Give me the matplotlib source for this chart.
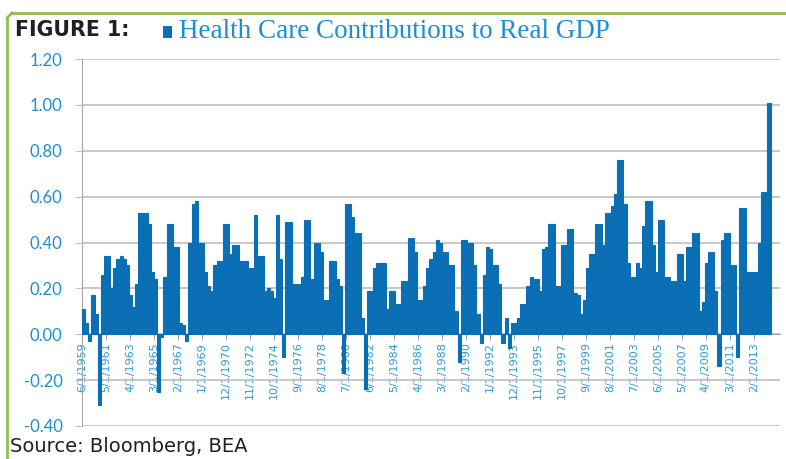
import numpy as np
import matplotlib.pyplot as plt
from matplotlib.lines import Line2D
from matplotlib.patches import Rectangle

# quarterly health care contribution to real GDP growth (pct pts), first bar = 6/1/1959
hc_contrib = [
    0.11, 0.05, -0.03, 0.17, 0.09, -0.31, 0.26, 0.34, 0.34, 0.20,
    0.29, 0.33, 0.34, 0.33, 0.30, 0.17, 0.12, 0.22, 0.53, 0.53,
    0.53, 0.48, 0.27, 0.24, -0.25, -0.01, 0.25, 0.48, 0.48, 0.38,
    0.38, 0.05, 0.04, -0.03, 0.40, 0.57, 0.58, 0.40, 0.40, 0.27,
    0.21, 0.19, 0.30, 0.32, 0.32, 0.48, 0.48, 0.35, 0.39, 0.39,
    0.32, 0.32, 0.32, 0.29, 0.29, 0.52, 0.34, 0.34, 0.19, 0.20,
    0.19, 0.16, 0.52, 0.33, -0.10, 0.49, 0.49, 0.22, 0.22, 0.22,
    0.25, 0.50, 0.50, 0.24, 0.40, 0.40, 0.36, 0.15, 0.15, 0.32,
    0.32, 0.24, 0.21, -0.17, 0.57, 0.57, 0.51, 0.44, 0.44, 0.07,
    -0.24, 0.19, 0.19, 0.29, 0.31, 0.31, 0.31, 0.11, 0.19, 0.19,
    0.13, 0.13, 0.23, 0.23, 0.42, 0.42, 0.36, 0.15, 0.15, 0.21,
    0.29, 0.33, 0.36, 0.41, 0.40, 0.36, 0.36, 0.30, 0.30, 0.10,
    -0.12, 0.41, 0.41, 0.40, 0.40, 0.30, 0.09, -0.04, 0.26, 0.38,
    0.37, 0.30, 0.30, 0.22, -0.04, 0.07, -0.06, 0.05, 0.05, 0.07,
    0.13, 0.13, 0.21, 0.25, 0.24, 0.24, 0.19, 0.37, 0.38, 0.48,
    0.48, 0.21, 0.21, 0.39, 0.39, 0.46, 0.46, 0.18, 0.17, 0.09,
    0.15, 0.29, 0.35, 0.35, 0.48, 0.48, 0.39, 0.53, 0.53, 0.56,
    0.61, 0.76, 0.76, 0.57, 0.31, 0.25, 0.25, 0.31, 0.29, 0.47,
    0.58, 0.58, 0.39, 0.27, 0.50, 0.50, 0.25, 0.25, 0.23, 0.23,
    0.35, 0.35, 0.23, 0.38, 0.38, 0.44, 0.44, 0.10, 0.14, 0.31,
    0.36, 0.36, 0.19, -0.14, 0.41, 0.44, 0.44, 0.30, 0.30, -0.10,
    0.55, 0.55, 0.27, 0.27, 0.27, 0.27, 0.40, 0.62, 0.62, 1.01,
]

# excel date axis labels, one every 23 months
tick_labels = ['6/1/1959', '5/1/1961', '4/1/1963', '3/1/1965', '2/1/1967',
               '1/1/1969', '12/1/1970', '11/1/1972', '10/1/1974', '9/1/1976',
               '8/1/1978', '7/1/1980', '6/1/1982', '5/1/1984', '4/1/1986',
               '3/1/1988', '2/1/1990', '1/1/1992', '12/1/1993', '11/1/1995',
               '10/1/1997', '9/1/1999', '8/1/2001', '7/1/2003', '6/1/2005',
               '5/1/2007', '4/1/2009', '3/1/2011', '2/1/2013']
y_ticks = [-0.40, -0.20, 0.00, 0.20, 0.40, 0.60, 0.80, 1.00, 1.20]

BAR = '#0B6FB6'
LABEL_BLUE = '#1E8ED2'
GRID = '#C4C4C4'
W, H = 786, 459

fig = plt.figure(figsize=(W / 100, H / 100), dpi=100)
ax = fig.add_axes([82 / W, 1 - 426 / H, (780 - 82) / W, (426 - 59) / H])

# months since 6/1959, each quarter spans 3 months
x = np.arange(len(hc_contrib)) * 3
ax.bar(x, hc_contrib, width=3, align='edge', color=BAR, edgecolor=BAR,
       linewidth=0.8, zorder=3)

ax.set_xlim(0, 669)
ax.set_ylim(-0.4, 1.2)
ax.set_yticks(y_ticks)
ax.set_yticklabels([f'{v:.2f}' for v in y_ticks])
ax.yaxis.grid(True, color=GRID, lw=1.3)
ax.set_axisbelow(True)

for s in ['top', 'right']:
    ax.spines[s].set_visible(False)
ax.spines['left'].set_color('#A6A6A6')
ax.spines['bottom'].set_position(('data', 0))
ax.spines['bottom'].set_color('#A6A6A6')

ax.set_xticks(np.arange(len(tick_labels)) * 23)
ax.set_xticklabels(tick_labels, rotation=90, fontsize=8, color='#2E9AD8',
                   family='DejaVu Sans')
ax.tick_params(axis='x', length=4, color='#A6A6A6', pad=1.5)
ax.tick_params(axis='y', length=5, color=GRID, labelsize=12,
               labelcolor=LABEL_BLUE, pad=9)
for t in ax.get_yticklabels():
    t.set_family('Lato')

# header and footer
fig.text(15 / W, 1 - 30 / H, 'FIGURE 1:', family='DejaVu Sans', weight='bold',
         fontsize=14.8, color='#231F20', va='center')
fig.add_artist(Rectangle((163 / W, 1 - 38 / H), 9 / W, 12 / H,
                         transform=fig.transFigure, color=BAR, lw=0))
fig.text(179 / W, 1 - 31 / H, 'Health Care Contributions to Real GDP',
         family='Liberation Serif', fontsize=19.5, color=LABEL_BLUE, va='center')
fig.text(10 / W, 1 - 446 / H, 'Source: Bloomberg, BEA', family='DejaVu Sans',
         fontsize=14, color='#231F20', va='center')

# green frame, top and left edges
green = '#94BC4E'
fig.add_artist(Line2D([12 / W, 1], [1 - 13 / H, 1 - 13 / H],
                      transform=fig.transFigure, color=green, lw=2))
fig.add_artist(Line2D([7 / W, 7 / W], [0, 1 - 18 / H],
                      transform=fig.transFigure, color=green, lw=2))
fig.add_artist(Line2D([7 / W, 12 / W], [1 - 18 / H, 1 - 13 / H],
                      transform=fig.transFigure, color=green, lw=2))

fig.savefig('out.png', dpi=100)
